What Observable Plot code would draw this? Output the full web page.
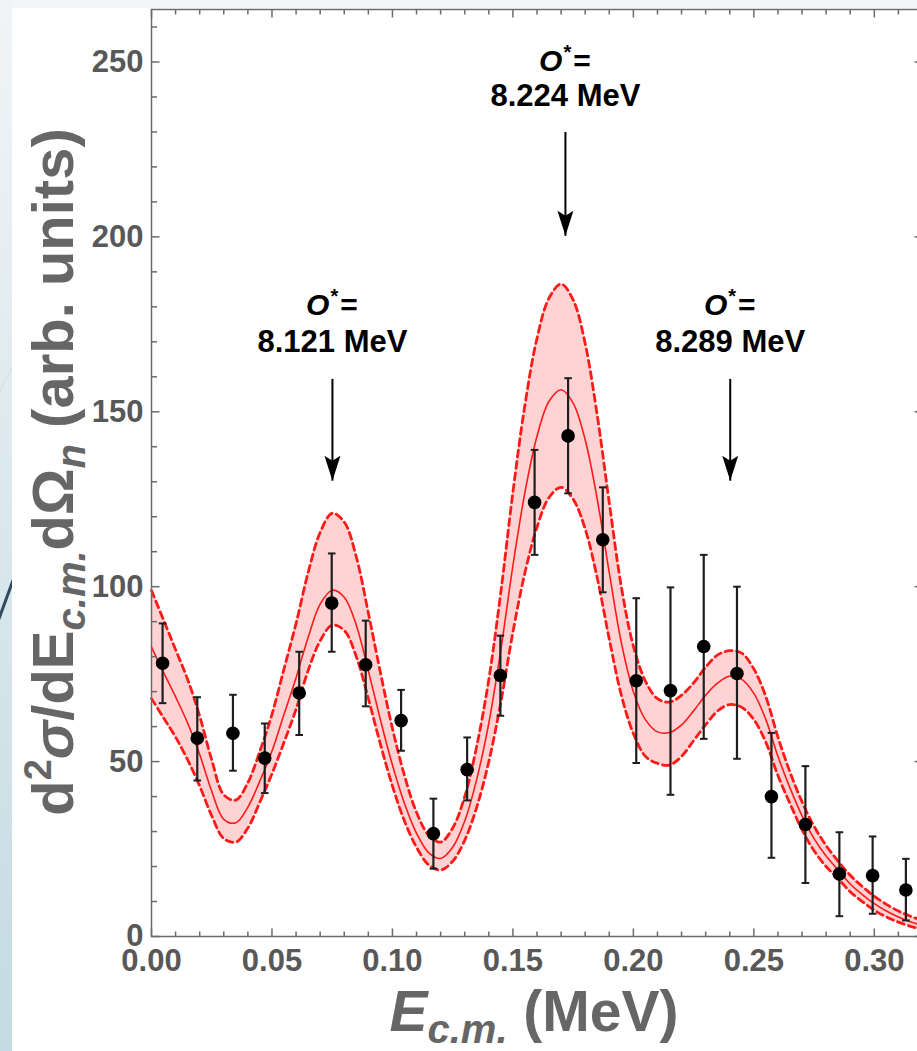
<!DOCTYPE html>
<html><head><meta charset="utf-8">
<script src="https://cdn.jsdelivr.net/npm/d3@7"></script>
<script src="https://cdn.jsdelivr.net/npm/@observablehq/plot@0.6"></script>
<style>
html,body{margin:0;padding:0;background:#fff;width:917px;height:1051px;overflow:hidden;font-family:"Liberation Sans",Arial,sans-serif;}
#stripL{position:absolute;left:0;top:0;width:12px;height:1051px;background:linear-gradient(#f1f4f7,#c3dbe2);overflow:hidden;}
#stripT{position:absolute;left:0;top:0;width:917px;height:8px;background:#f3f5f8;}
#deco{position:absolute;left:-34px;top:598px;width:80px;height:3px;background:#2d4a62;transform:rotate(-70deg);}
#deco2{position:absolute;left:-40px;top:380px;width:90px;height:2px;background:#d6e4ea;transform:rotate(-62deg);}
#chart{position:absolute;left:0;top:0;}
</style></head><body>
<div id="stripT"></div><div id="stripL"><div id="deco2"></div><div id="deco"></div></div>
<div id="chart"></div>
<script>
// measured data points
const energy = [0.0046,0.019,0.0338,0.047,0.0613,0.0748,0.0889,0.1036,0.117,0.131,0.1448,0.159,0.1729,0.1873,0.2012,0.2154,0.2292,0.243,0.2573,0.2714,0.2855,0.2993,0.3131];
const counts = [78.1,56.7,58.1,51.0,69.6,95.3,77.7,61.7,29.4,47.7,74.6,124.1,143.1,113.4,73.1,70.3,82.9,75.2,40.0,32.0,17.9,17.4,13.3];
const errHi  = [89.5,68.4,69.1,60.9,81.4,109.5,90.3,70.5,39.4,56.9,86,139.1,159.6,128.4,96.7,99.8,109.1,100,58.2,48.7,29.8,28.6,22.2];
const errLo  = [66.7,44.6,47.4,41.0,57.6,81.4,65.8,53.1,19.4,38.9,63.1,109.1,126.7,98.4,49.6,40.5,56.5,50.8,22.5,15.3,5.8,6.5,4.6];

// fit curve and its uncertainty band
const fitE = [0,0.005,0.01,0.015,0.02,0.025,0.03,0.035,0.04,0.045,0.05,0.055,0.06,0.065,0.07,0.075,0.08,0.085,0.09,0.095,0.1,0.105,0.11,0.115,0.12,0.125,0.13,0.135,0.14,0.145,0.15,0.155,0.16,0.165,0.17,0.175,0.18,0.185,0.19,0.195,0.2,0.205,0.21,0.215,0.22,0.225,0.23,0.235,0.24,0.245,0.25,0.255,0.26,0.265,0.27,0.275,0.28,0.285,0.29,0.295,0.3,0.305,0.31,0.315,0.32];
const fitMid = [82.7,75.5,68.5,61,52,41.5,33.5,32.5,37,44.5,53,63.5,74,85.5,95,99,97,89,76,62,49,38,29.5,24,22.3,25.5,33,45,61,82,106,127,143,153,156.3,152.5,142,125,104,84,70,62,58.5,58.3,60.5,64.5,69,72.5,74.4,73.5,69.5,62,51.5,42.5,34.5,28,23,19,15,12,9.4,7.3,5.6,4.2,3.2];
const fitUp = [98.9,90.5,82,73.5,63,50.5,40.5,39,44,53,63.5,76.5,89.5,104,115.5,121,118.5,108.5,92.5,75.5,59.5,46,35.5,29,27,31,40,54.5,73.5,98.5,127,152,171,182.5,186.5,182,169.5,149,124,100,83,73,68,67,69,72.5,77,80.5,81.7,81,76.5,68.5,57,47,38.5,31.5,26,21.5,17.5,14.3,11.5,9.2,7.3,5.8,4.6];
const fitLo = [68,62.5,57,50.5,43,34.5,28,27,31,38.5,46.5,55.5,65,76,84.5,89,87.5,80,68,55,43,33,25.5,20.5,19,21.5,27.5,37,50,67,87,104,117,125.5,128.4,125,116.5,102.5,85,69,58,51.5,49.5,49,51.5,56,60.5,64.5,66.3,65.5,62,55.5,46,38,30.5,24.5,20,16.5,12.8,10,7.5,5.6,4.1,2.9,2];

// annotations
const stateLabels = ["8.121 MeV","8.224 MeV","8.289 MeV"];
const stateE = [0.0751,0.1718,0.2402];
const arrowTail = [159.4,230,159.4];
const arrowTip = [130.3,200.3,130.3];
const labelLine1 = [177.4,247.4,177.4];
const labelLine2 = [167.2,237.4,167.2];

// ticks
const xMajor = [0,0.05,0.10,0.15,0.20,0.25,0.30];
const xMinor = [0.01,0.02,0.03,0.04,0.06,0.07,0.08,0.09,0.11,0.12,0.13,0.14,0.16,0.17,0.18,0.19,0.21,0.22,0.23,0.24,0.26,0.27,0.28,0.29,0.31];
const yMajor = [0,50,100,150,200,250];
const yMinor = [10,20,30,40,60,70,80,90,110,120,130,140,160,170,180,190,210,220,230,240,260];

const points = energy.map((e,i)=>({e, c:counts[i], hi:errHi[i], lo:errLo[i]}));
const fit = fitE.map((e,i)=>({e, mid:fitMid[i], up:fitUp[i], lo:fitLo[i]}));
const states = stateE.map((e,i)=>({e, label:stateLabels[i], tail:arrowTail[i], tip:arrowTip[i], l1:labelLine1[i], l2:labelLine2[i]}));

const lineSym = (dx1,dy1,dx2,dy2)=>({draw(ctx){ctx.moveTo(dx1,dy1);ctx.lineTo(dx2,dy2);}});
const head = {draw(ctx){ctx.moveTo(0,0);ctx.lineTo(-8,-25);ctx.lineTo(0,-20);ctx.lineTo(8,-25);ctx.closePath();}};
const cap = lineSym(-3.8,0,3.8,0);
const FRAME = "#6b6b6b";
const FONT = "'Liberation Sans', Arial, sans-serif";

const plot = Plot.plot({
  width: 917, height: 1051,
  marginLeft: 151, marginTop: 9, marginBottom: 115, marginRight: -5,
  style: {background: "transparent", fontFamily: FONT},
  x: {domain: [0, 0.32], label: null},
  y: {domain: [0, 265], label: null},
  marks: [
    Plot.areaY(fit, {x:"e", y1:"lo", y2:"up", fill:"#ffd3d3", curve:"catmull-rom"}),
    Plot.line(fit, {x:"e", y:"up", stroke:"#ff1a1a", strokeWidth:2.8, strokeDasharray:"7,4.5", curve:"catmull-rom"}),
    Plot.line(fit, {x:"e", y:"lo", stroke:"#ff1a1a", strokeWidth:2.8, strokeDasharray:"7,4.5", curve:"catmull-rom"}),
    Plot.line(fit, {x:"e", y:"mid", stroke:"#ff1a1a", strokeWidth:1.6, curve:"catmull-rom"}),
    Plot.ruleX(points, {x:"e", y1:"lo", y2:"hi", stroke:"#1e1e1e", strokeWidth:2.2}),
    Plot.dot(points, {x:"e", y:"hi", symbol:cap, stroke:"#1e1e1e", strokeWidth:2, fill:"none"}),
    Plot.dot(points, {x:"e", y:"lo", symbol:cap, stroke:"#1e1e1e", strokeWidth:2, fill:"none"}),
    Plot.dot(points, {x:"e", y:"c", r:6.8, fill:"#000", stroke:"none"}),
    Plot.link(states, {x1:"e", x2:"e", y1:"tail", y2:"tip", stroke:"#000", strokeWidth:2, insetBottom:10}),
    Plot.dot(states, {x:"e", y:"tip", symbol:head, fill:"#000", stroke:"none"}),
    Plot.text(states, {x:"e", y:"l2", text:"label", fontSize:31, fontWeight:"bold", fill:"#000", lineAnchor:"bottom", fontFamily:FONT}),
    Plot.frame({stroke:FRAME, strokeWidth:1.5}),
    Plot.dot(xMajor, {x:d=>d, frameAnchor:"bottom", symbol:lineSym(0,0,0,-8), stroke:FRAME, strokeWidth:1.5, fill:"none"}),
    Plot.dot(xMinor, {x:d=>d, frameAnchor:"bottom", symbol:lineSym(0,0,0,-5), stroke:FRAME, strokeWidth:1.5, fill:"none"}),
    Plot.dot(xMajor, {x:d=>d, frameAnchor:"top", symbol:lineSym(0,0,0,8), stroke:FRAME, strokeWidth:1.5, fill:"none"}),
    Plot.dot(xMinor, {x:d=>d, frameAnchor:"top", symbol:lineSym(0,0,0,5), stroke:FRAME, strokeWidth:1.5, fill:"none"}),
    Plot.dot(yMajor, {y:d=>d, frameAnchor:"left", symbol:lineSym(0,0,8,0), stroke:FRAME, strokeWidth:1.5, fill:"none"}),
    Plot.dot(yMinor, {y:d=>d, frameAnchor:"left", symbol:lineSym(0,0,5.5,0), stroke:FRAME, strokeWidth:1.5, fill:"none"}),
    Plot.dot(yMajor, {y:d=>d, frameAnchor:"right", symbol:lineSym(0,0,-8,0), stroke:FRAME, strokeWidth:1.5, fill:"none"}),
    Plot.dot(yMinor, {y:d=>d, frameAnchor:"right", symbol:lineSym(0,0,-5.5,0), stroke:FRAME, strokeWidth:1.5, fill:"none"}),
    Plot.axisX({ticks:xMajor, tickSize:0, tickPadding:12, tickFormat:d3.format(".2f"), fontSize:31, fontWeight:"bold", color:"#585858", label:null}),
    Plot.axisY({ticks:yMajor, tickSize:0, tickPadding:8, tickFormat:d3.format("d"), fontSize:31, fontWeight:"bold", color:"#585858", label:null})
  ]
});
document.getElementById("chart").appendChild(plot);

const svg = d3.select(plot);
const X = plot.scale("x"), Y = plot.scale("y");
// "O*=" lines
states.forEach(s => {
  const t = svg.append("text").attr("x", X.apply(s.e)).attr("y", Y.apply(s.l1))
    .attr("text-anchor","middle").attr("font-size",30).attr("font-weight","bold")
    .attr("font-family",FONT).attr("fill","#000");
  t.append("tspan").attr("font-style","italic").text("O");
  t.append("tspan").attr("font-size",20).attr("dy",-12).attr("dx",1).text("*");
  t.append("tspan").attr("dy",12).attr("dx",2).text("=");
});
// x axis title
const xt = svg.append("text").attr("x", 534).attr("y", 1031)
  .attr("text-anchor","middle").attr("font-size",57).attr("font-weight","bold")
  .attr("font-family",FONT).attr("fill","#666");
xt.append("tspan").attr("font-style","italic").text("E");
xt.append("tspan").attr("font-style","italic").attr("font-size",40).attr("dy",12).text("c.m.");
xt.append("tspan").attr("dy",-12).text(" (MeV)");
// y axis title
const yt = svg.append("text").attr("transform","translate(73,472) rotate(-90)")
  .attr("text-anchor","middle").attr("font-size",58).attr("font-weight","bold")
  .attr("font-family",FONT).attr("fill","#666");
yt.append("tspan").text("d");
yt.append("tspan").attr("font-size",38).attr("dy",-22).text("2");
yt.append("tspan").attr("font-style","italic").attr("dy",22).text("σ");
yt.append("tspan").text("/dE");
yt.append("tspan").attr("font-style","italic").attr("font-size",40).attr("dy",12).text("c.m.");
yt.append("tspan").attr("dy",-12).text("dΩ");
yt.append("tspan").attr("font-style","italic").attr("font-size",40).attr("dy",12).text("n");
yt.append("tspan").attr("dy",-12).text(" (arb. units)");
</script>
</body></html>
